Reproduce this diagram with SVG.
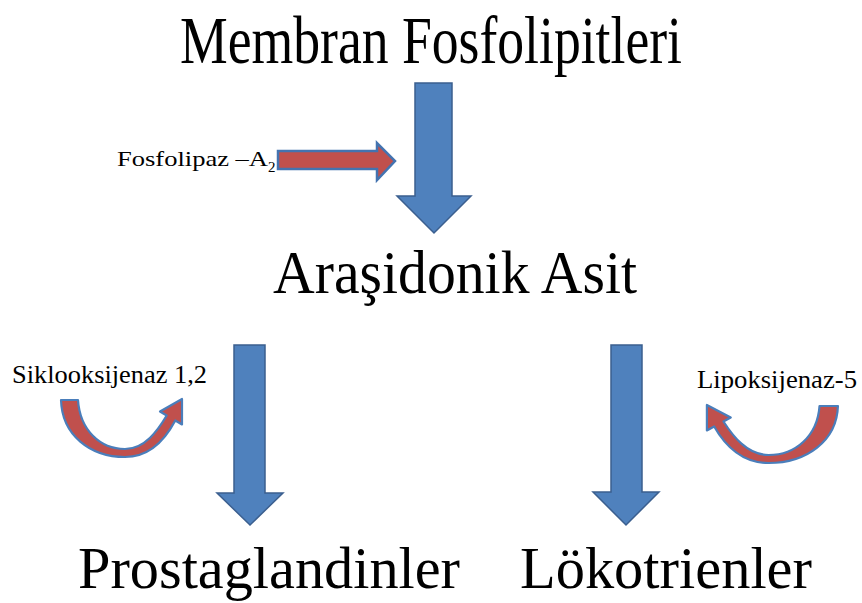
<svg xmlns="http://www.w3.org/2000/svg" width="862" height="603" viewBox="0 0 862 603">
<style>
text{font-family:"Liberation Serif","Times New Roman",serif;fill:#000}
.big{stroke:#3B5F8F;stroke-width:1.5;fill:#4F81BD;stroke-linejoin:miter}
.red{fill:#C0504D;stroke:#4373B0;stroke-width:2.5;stroke-linejoin:miter}
.curve{fill:#C0504D;stroke:#4A7EBB;stroke-width:2.2;stroke-linejoin:round}
</style>
<rect width="862" height="603" fill="#fff"/>
<g id="membran"><text x="180" y="63" font-size="67" textLength="502" lengthAdjust="spacingAndGlyphs">Membran Fosfolipitleri</text></g>
<g id="arasidonik"><text x="273" y="293" font-size="61" textLength="364" lengthAdjust="spacingAndGlyphs">Araşidonik Asit</text></g>
<g id="prostaglandinler"><text x="78" y="588" font-size="60" textLength="382" lengthAdjust="spacingAndGlyphs">Prostaglandinler</text></g>
<g id="lokotrienler"><text x="520" y="588" font-size="60" textLength="292" lengthAdjust="spacingAndGlyphs">Lökotrienler</text></g>
<g id="fosfolipaz"><text x="117" y="166" font-size="22" textLength="151" lengthAdjust="spacingAndGlyphs">Fosfolipaz –A</text><text x="268" y="172" font-size="15">2</text></g>
<g id="siklooksijenaz"><text x="12" y="383" font-size="26" textLength="195" lengthAdjust="spacingAndGlyphs">Siklooksijenaz 1,2</text></g>
<g id="lipoksijenaz"><text x="697" y="388" font-size="26" textLength="160" lengthAdjust="spacingAndGlyphs">Lipoksijenaz-5</text></g>
<g id="connectors">
<polygon class="big" points="415,83 452,83 452,196 471,196 434,233 397,196 415,196"/>
<polygon class="big" points="234,345 265,345 265,493 283,493 250,525 217,493 234,493"/>
<polygon class="big" points="611,345 642,345 642,492 659,492 626,525 593,492 611,492"/>
<polygon class="red" points="278,151 377,151 377,143 395,161 377,180 377,169 278,169"/>
<path class="curve" d="M61,400 L78,400 C80,430 100,449 125,449 C145,449 158,430 166.7,415.5 L160,411.5 L182,399 L182,424.5 L175.3,420.5 C165,440 150,457 125,457 C90,457 62,435 61,400 Z"/>
<path class="curve" vector-effect="non-scaling-stroke" transform="translate(904,6) scale(-1.083,1)" d="M61,400 L78,400 C80,430 100,449 125,449 C145,449 158,430 166.7,415.5 L160,411.5 L182,399 L182,424.5 L175.3,420.5 C165,440 150,457 125,457 C90,457 62,435 61,400 Z"/>
</g>
</svg>
